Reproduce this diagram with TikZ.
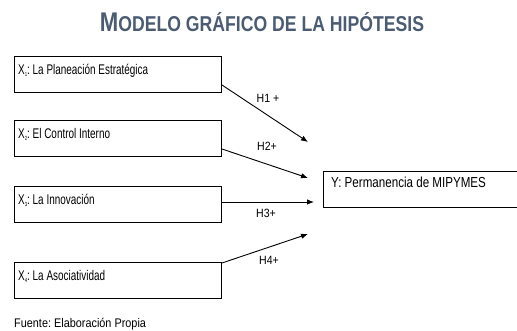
\documentclass[tikz,border=0pt]{standalone}
\usepackage{fontspec}
\setmainfont{Liberation Sans}[FakeStretch=0.71]
\newfontfamily\titlefont{Liberation Sans}[FakeStretch=0.82]
\newfontfamily\yfont{Liberation Sans}[FakeStretch=0.8]
\newfontfamily\labfont{Liberation Sans}[FakeStretch=0.88]
\newfontfamily\srcfont{Liberation Sans}[FakeStretch=0.87]
\usetikzlibrary{arrows.meta}
\definecolor{titleblue}{HTML}{4A5B72}
\newcommand{\xsub}[1]{X\raisebox{-1.5pt}{\fontsize{6}{6}\selectfont #1}}
\tikzset{
  varbox/.style={draw, line width=1.1pt, minimum width=207pt, minimum height=36pt, anchor=north west, inner sep=0pt},
  boxtext/.style={anchor=base west, font=\fontsize{14}{14}\selectfont, inner sep=0pt},
  conn/.style={line width=0.9pt, -{Latex[length=7pt,width=5.5pt]}},
  hlab/.style={font=\labfont\fontsize{12}{12}\selectfont, inner sep=0pt}
}
\begin{document}
\frenchspacing
\begin{tikzpicture}[x=1pt,y=-1pt]
\useasboundingbox (0,0) rectangle (517,331);
\node[font=\titlefont\bfseries\fontsize{21.5}{21.5}\selectfont, text=titleblue, inner sep=0pt] (title) at (262,22) {{\fontsize{27}{27}\selectfont M}ODELO GRÁFICO DE LA HIPÓTESIS};
% boxes
\node[varbox] (b1) at (14,56) {};
\node[varbox] (b2) at (14,120) {};
\node[varbox] (b3) at (14,186) {};
\node[varbox] (b4) at (14,262) {};
\node[draw, line width=1.1pt, minimum width=200pt, minimum height=36pt, anchor=north west, inner sep=0pt] (y) at (323,171) {};
\node[boxtext] (t1) at (18,75) {\xsub{1}: La Planeación Estratégica};
\node[boxtext] (t2) at (18,139) {\xsub{2}: El Control Interno};
\node[boxtext] (t3) at (18,205) {\xsub{3}: La Innovación};
\node[boxtext] (t4) at (18,281) {\xsub{4}: La Asociatividad};
\node[boxtext, font=\yfont\fontsize{14.5}{14.5}\selectfont] (ty) at (331,188) {Y: Permanencia de MIPYMES};
% connector endpoints
\coordinate (s1) at (222,85);
\coordinate (e1) at (308,142);
\coordinate (s2) at (222,149);
\coordinate (e2) at (308,178);
\coordinate (s3) at (222,202);
\coordinate (e3) at (314,202);
\coordinate (s4) at (222,263);
\coordinate (e4) at (308,234);
\draw[conn] (s1) -- (e1);
\draw[conn] (s2) -- (e2);
\draw[conn] (s3) -- (e3);
\draw[conn] (s4) -- (e4);
\node[hlab] (h1) at (268,98) {H1 +};
\node[hlab] (h2) at (267,146) {H2+};
\node[hlab] (h3) at (266,213) {H3+};
\node[hlab] (h4) at (269,260) {H4+};
\node[anchor=west, inner sep=0pt, font=\srcfont\fontsize{12.5}{12.5}\selectfont] (src) at (14,324) {Fuente: Elaboración Propia};
\end{tikzpicture}
\end{document}
